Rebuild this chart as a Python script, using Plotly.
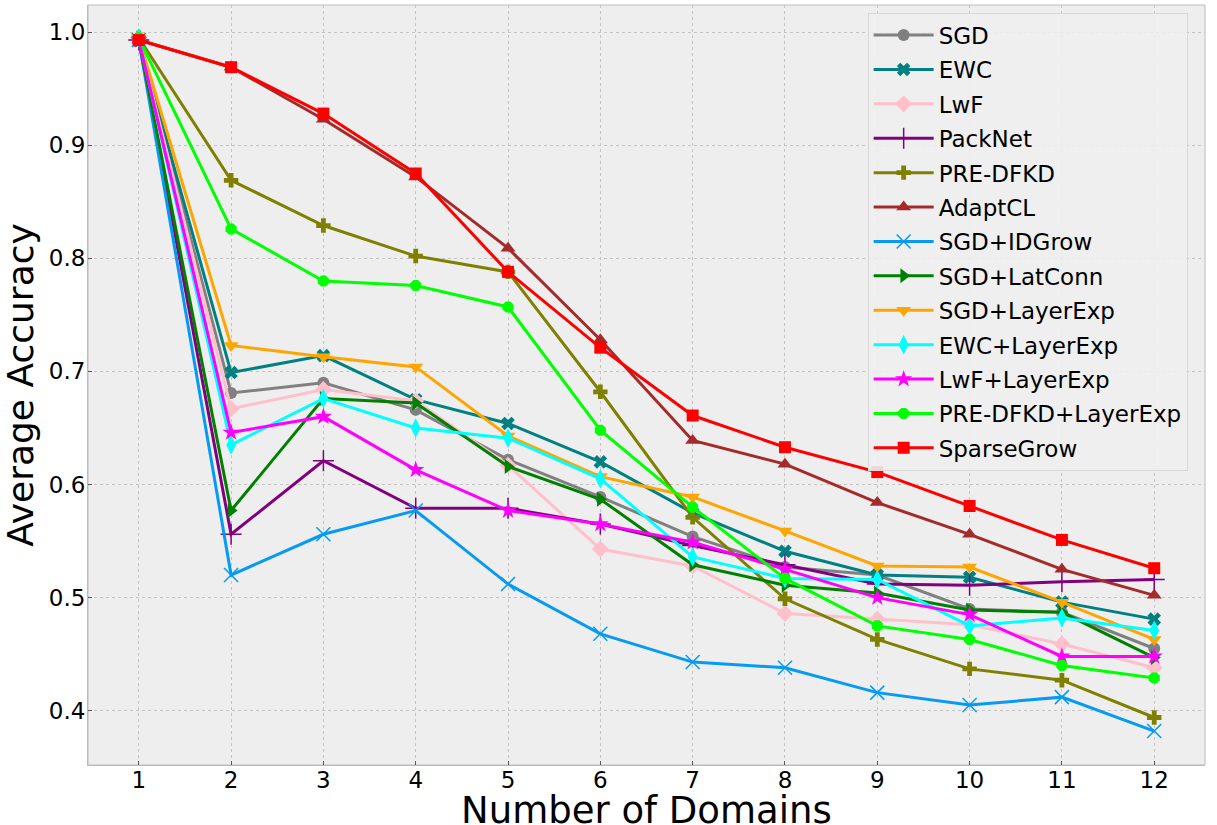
import plotly.graph_objects as go

domains = list(range(1, 13))

methods = ["SGD", "EWC", "LwF", "PackNet", "PRE-DFKD", "AdaptCL", "SGD+IDGrow",
           "SGD+LatConn", "SGD+LayerExp", "EWC+LayerExp", "LwF+LayerExp",
           "PRE-DFKD+LayerExp", "SparseGrow"]

sgd = [0.993, 0.681, 0.690, 0.666, 0.622, 0.589, 0.554, 0.527, 0.520, 0.490, 0.487, 0.455]
ewc = [0.993, 0.699, 0.714, 0.675, 0.654, 0.620, 0.575, 0.541, 0.520, 0.518, 0.496, 0.481]
lwf = [0.993, 0.667, 0.684, 0.674, 0.617, 0.543, 0.528, 0.486, 0.481, 0.476, 0.459, 0.438]
packnet = [0.993, 0.556, 0.621, 0.579, 0.579, 0.565, 0.546, 0.529, 0.512, 0.511, 0.514, 0.516]
pre_dfkd = [0.995, 0.869, 0.829, 0.802, 0.788, 0.682, 0.571, 0.499, 0.463, 0.437, 0.427, 0.394]
adaptcl = [0.993, 0.969, 0.923, 0.872, 0.809, 0.728, 0.639, 0.618, 0.584, 0.556, 0.525, 0.502]
sgd_idgrow = [0.993, 0.520, 0.556, 0.577, 0.512, 0.468, 0.443, 0.438, 0.416, 0.405, 0.412, 0.382]
sgd_latconn = [0.993, 0.577, 0.676, 0.672, 0.616, 0.587, 0.529, 0.511, 0.504, 0.489, 0.487, 0.447]
sgd_layerexp = [0.995, 0.723, 0.713, 0.704, 0.643, 0.607, 0.589, 0.559, 0.528, 0.527, 0.496, 0.463]
ewc_layerexp = [0.995, 0.635, 0.676, 0.650, 0.641, 0.605, 0.536, 0.517, 0.516, 0.475, 0.482, 0.471]
lwf_layerexp = [0.993, 0.646, 0.660, 0.613, 0.577, 0.565, 0.549, 0.525, 0.500, 0.485, 0.448, 0.448]
pre_dfkd_layerexp = [0.995, 0.826, 0.780, 0.776, 0.757, 0.648, 0.580, 0.517, 0.475, 0.463, 0.440, 0.429]
sparsegrow = [0.993, 0.969, 0.928, 0.875, 0.788, 0.721, 0.661, 0.633, 0.611, 0.581, 0.551, 0.526]

series = [sgd, ewc, lwf, packnet, pre_dfkd, adaptcl, sgd_idgrow, sgd_latconn,
          sgd_layerexp, ewc_layerexp, lwf_layerexp, pre_dfkd_layerexp, sparsegrow]

x_title = "Number of Domains"
y_title = "Average Accuracy"

colors = ["#808080", "#008080", "#ffc0cb", "#800080", "#808000", "#a52a2a", "#069af3",
          "#008000", "#ffa500", "#00ffff", "#ff00ff", "#00ff00", "#ff0000"]
symbols = ["circle", "x", "diamond", "cross-thin", "cross", "triangle-up", "x-thin",
           "triangle-right", "triangle-down", "diamond-tall", "star", "octagon", "square"]
sizes = [12, 12, 13, 15, 12, 13, 14, 13, 13, 14, 13, 12, 12]

fig = go.Figure()
for name, ys, c, s, sz in zip(methods, series, colors, symbols, sizes):
    thin = s.endswith("-thin")
    fig.add_trace(go.Scatter(
        x=domains, y=ys, name=name, mode="lines+markers", legendgroup=name,
        line=dict(color=c, width=3),
        marker=dict(symbol=s, size=sz, color=c,
                    line=dict(color=c, width=1.5 if thin else 0)),
    ))

fig.update_layout(
    width=1217, height=825,
    paper_bgcolor="white", plot_bgcolor="#eeeeee",
    margin=dict(l=88, r=12, t=5, b=60),
    font=dict(family="DejaVu Sans", size=22, color="black"),
    showlegend=True,
    legend=dict(x=0.698, y=0.990, xanchor="left", yanchor="top",
                bgcolor="rgba(238,238,238,0.9)", bordercolor="#d8d8d8", borderwidth=1,
                font=dict(size=23), itemwidth=60, tracegroupgap=1.5),
    annotations=[dict(text=x_title, xref="paper", yref="paper", x=0.5, y=-0.060,
                      xanchor="center", yanchor="middle", showarrow=False,
                      font=dict(size=37, family="DejaVu Sans", color="black"))],
)
fig.update_xaxes(
    range=[0.45, 12.55], tickmode="array", tickvals=domains,
    ticktext=[str(d) for d in domains], automargin=False,
    showgrid=True, gridcolor="#c4c4c4", griddash="dot", gridwidth=1,
    zeroline=False, showline=True, linecolor="#bcbcbc", mirror=False,
    ticks="inside", ticklen=4, tickcolor="#555555", tickwidth=1,
    tickfont=dict(size=23), ticklabelstandoff=-6,
)
fig.update_yaxes(
    range=[0.352, 1.024], tickmode="array",
    tickvals=[0.4, 0.5, 0.6, 0.7, 0.8, 0.9, 1.0],
    ticktext=["0.4", "0.5", "0.6", "0.7", "0.8", "0.9", "1.0"], automargin=False,
    showgrid=True, gridcolor="#c4c4c4", griddash="dot", gridwidth=1,
    zeroline=False, showline=True, linecolor="#bcbcbc", mirror=False,
    ticks="inside", ticklen=4, tickcolor="#555555", tickwidth=1,
    tickfont=dict(size=23), ticklabelstandoff=-3,
    title=dict(text=y_title, font=dict(size=36), standoff=6),
)
# frame on the other two sides without ticks
fig.add_shape(type="rect", xref="paper", yref="paper", x0=0, y0=0, x1=1, y1=1,
              line=dict(color="#bcbcbc", width=1), layer="below")

fig.write_html("out.html", config={"displayModeBar": False},
               post_script="document.body.style.margin='0';")
